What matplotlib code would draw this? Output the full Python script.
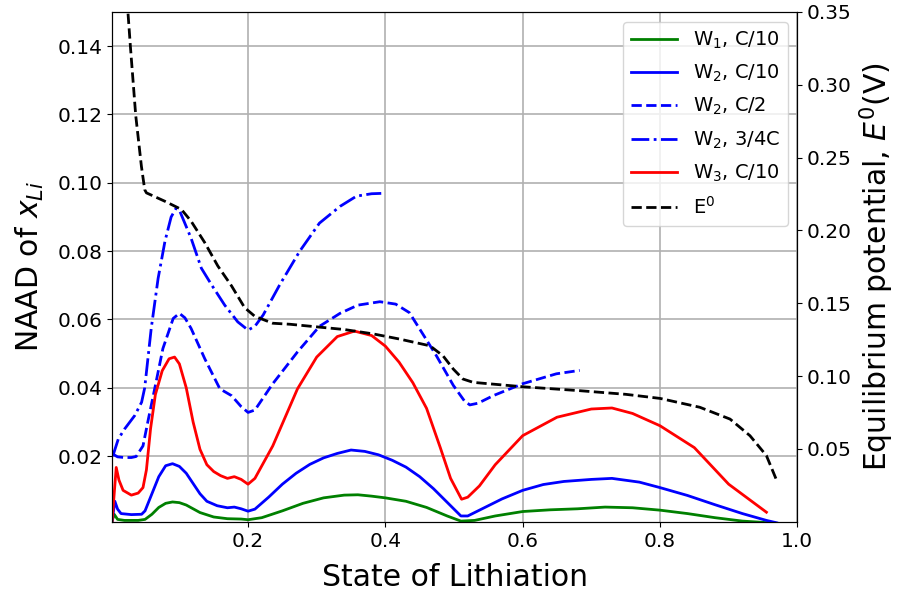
import matplotlib
matplotlib.use("Agg")
import matplotlib.pyplot as plt
import numpy as np

# NAAD curves, state of lithiation on x
w1_c10_x = [0.002, 0.005, 0.01, 0.02, 0.04, 0.05, 0.06, 0.07, 0.08, 0.09, 0.10, 0.11, 0.13, 0.15, 0.17,
            0.19, 0.20, 0.22, 0.25, 0.28, 0.31, 0.34, 0.36, 0.38, 0.40, 0.43, 0.46, 0.49, 0.51, 0.53,
            0.56, 0.60, 0.64, 0.68, 0.72, 0.76, 0.80, 0.84, 0.88, 0.92, 0.96]
w1_c10_y = [0.001, 0.003, 0.0015, 0.0012, 0.0012, 0.0015, 0.003, 0.0050, 0.0062, 0.0066, 0.0064, 0.0057,
            0.0035, 0.0022, 0.0017, 0.0016, 0.0014, 0.0020, 0.0040, 0.0062, 0.0078, 0.0086, 0.0087,
            0.0083, 0.0078, 0.0068, 0.0050, 0.0025, 0.0010, 0.0012, 0.0025, 0.0038, 0.0043, 0.0046,
            0.0051, 0.0049, 0.0042, 0.0032, 0.0020, 0.0010, 0.0005]

w2_c10_x = [0.002, 0.006, 0.01, 0.015, 0.03, 0.045, 0.05, 0.06, 0.07, 0.08, 0.09, 0.10, 0.11, 0.12, 0.13,
            0.14, 0.155, 0.17, 0.18, 0.19, 0.20, 0.21, 0.23, 0.25, 0.27, 0.29, 0.31, 0.33, 0.35, 0.37,
            0.39, 0.41, 0.43, 0.45, 0.47, 0.49, 0.51, 0.52, 0.54, 0.57, 0.60, 0.63, 0.66, 0.70, 0.73,
            0.77, 0.80, 0.84, 0.88, 0.92, 0.955, 0.97]
w2_c10_y = [0.001, 0.0068, 0.0045, 0.0032, 0.0029, 0.0030, 0.0040, 0.0090, 0.0140, 0.0172, 0.0178, 0.0170,
            0.0150, 0.0120, 0.0090, 0.0068, 0.0055, 0.0049, 0.0051, 0.0046, 0.0039, 0.0045, 0.0080, 0.0118,
            0.0150, 0.0176, 0.0195, 0.0208, 0.0218, 0.0214, 0.0204, 0.0188, 0.0168, 0.0140, 0.0105,
            0.0065, 0.0025, 0.0025, 0.0045, 0.0075, 0.0100, 0.0117, 0.0126, 0.0132, 0.0135, 0.0124,
            0.0108, 0.0085, 0.0058, 0.0032, 0.0012, 0.0005]

w2_c2_x = [0.004, 0.01, 0.02, 0.03, 0.037, 0.047, 0.055, 0.064, 0.076, 0.091, 0.10, 0.108, 0.117, 0.137,
           0.159, 0.176, 0.19, 0.20, 0.21, 0.236, 0.272, 0.304, 0.334, 0.36, 0.392, 0.415, 0.435, 0.455,
           0.474, 0.499, 0.515, 0.523, 0.535, 0.557, 0.60, 0.649, 0.683]
w2_c2_y = [0.0205, 0.0198, 0.0196, 0.0196, 0.0199, 0.023, 0.031, 0.0397, 0.0515, 0.0603, 0.0618, 0.0605,
           0.0574, 0.0485, 0.0397, 0.0377, 0.0345, 0.0328, 0.0335, 0.0412, 0.0505, 0.058, 0.0618, 0.0642,
           0.0652, 0.0645, 0.0620, 0.0556, 0.0495, 0.0407, 0.0362, 0.0350, 0.0355, 0.0377, 0.0412,
           0.0441, 0.0451]

w2_34c_x = [0.003, 0.011, 0.02, 0.035, 0.045, 0.0495, 0.059, 0.069, 0.079, 0.088, 0.095, 0.10, 0.117,
            0.132, 0.147, 0.166, 0.185, 0.20, 0.21, 0.222, 0.246, 0.275, 0.304, 0.334, 0.358, 0.38, 0.394]
w2_34c_y = [0.020, 0.025, 0.0279, 0.0319, 0.0358, 0.040, 0.0574, 0.072, 0.0829, 0.090, 0.0925, 0.0920,
            0.0838, 0.075, 0.0701, 0.0642, 0.0593, 0.0569, 0.0580, 0.0613, 0.0701, 0.0799, 0.0882,
            0.0931, 0.0961, 0.0968, 0.0969]

w3_c10_x = [0.002, 0.008, 0.012, 0.018, 0.03, 0.04, 0.047, 0.052, 0.058, 0.065, 0.075, 0.085, 0.093, 0.10,
            0.11, 0.12, 0.13, 0.14, 0.15, 0.16, 0.17, 0.18, 0.19, 0.20, 0.21, 0.236, 0.272, 0.30, 0.33,
            0.355, 0.38, 0.40, 0.42, 0.44, 0.46, 0.48, 0.495, 0.511, 0.52, 0.537, 0.56, 0.60, 0.65, 0.70,
            0.73, 0.76, 0.80, 0.85, 0.90, 0.955]
w3_c10_y = [0.001, 0.0167, 0.013, 0.010, 0.0086, 0.0092, 0.0108, 0.016, 0.028, 0.038, 0.045, 0.0485, 0.0490,
            0.0470, 0.040, 0.030, 0.022, 0.0175, 0.0155, 0.0143, 0.0135, 0.0140, 0.0132, 0.0118, 0.0135,
            0.023, 0.0397, 0.049, 0.055, 0.0566, 0.0553, 0.0522, 0.0475, 0.0415, 0.0340, 0.0225,
            0.0135, 0.0074, 0.0080, 0.0113, 0.0175, 0.026, 0.0314, 0.0338, 0.0341, 0.0325, 0.0289,
            0.0225, 0.0118, 0.0036]

# equilibrium potential (right axis)
e0_x = [0.022, 0.0287, 0.0364, 0.0447, 0.0495, 0.052, 0.079, 0.103, 0.117, 0.137, 0.156, 0.176, 0.195,
        0.21, 0.236, 0.261, 0.309, 0.34, 0.382, 0.42, 0.465, 0.484, 0.499, 0.513, 0.528, 0.60, 0.683,
        0.75, 0.80, 0.858, 0.902, 0.931, 0.955, 0.970]
e0_y = [0.37, 0.326, 0.279, 0.244, 0.228, 0.2258, 0.220, 0.2144, 0.2064, 0.1916, 0.1756, 0.1619, 0.1470,
        0.141, 0.1363, 0.1356, 0.1334, 0.1320, 0.1290, 0.1255, 0.1208, 0.1139, 0.1048, 0.098, 0.0957,
        0.0927, 0.090, 0.0875, 0.0847, 0.0786, 0.0705, 0.0591, 0.0454, 0.0283]

fig = plt.figure(figsize=(9.04, 5.97), dpi=100)
ax1 = fig.add_axes([0.124, 0.126, 0.758, 0.854])
ax2 = ax1.twinx()

lw = 2
l1, = ax1.plot(w1_c10_x, w1_c10_y, color='green', lw=lw, label='W$_1$, C/10')
l2, = ax1.plot(w2_c10_x, w2_c10_y, color='blue', lw=lw, label='W$_2$, C/10')
l3, = ax1.plot(w2_c2_x, w2_c2_y, color='blue', lw=lw, ls='--', label='W$_2$, C/2')
l4, = ax1.plot(w2_34c_x, w2_34c_y, color='blue', lw=lw, ls='-.', label='W$_2$, 3/4C')
l5, = ax1.plot(w3_c10_x, w3_c10_y, color='red', lw=lw, label='W$_3$, C/10')
l6, = ax2.plot(e0_x, e0_y, color='black', lw=lw, ls='--', label='E$^0$')

ax1.set_xlim(0.002, 1.0)
ax1.set_ylim(0.0008, 0.15)
ax2.set_ylim(0.0, 0.35)
ax1.set_xticks([0.2, 0.4, 0.6, 0.8, 1.0])
ax1.set_yticks([0.02, 0.04, 0.06, 0.08, 0.10, 0.12, 0.14])
ax2.set_yticks([0.05, 0.10, 0.15, 0.20, 0.25, 0.30, 0.35])
ax1.grid(True, color='#b0b0b0', lw=1.2)

ax1.tick_params(labelsize=14.5)
ax2.tick_params(labelsize=14.5)
ax1.set_xlabel('State of Lithiation', fontsize=21.5, labelpad=9)
ax1.set_ylabel('NAAD of $x_{Li}$', fontsize=21.5, labelpad=8)
ax2.set_ylabel('Equilibrium potential, $E^0$(V)', fontsize=21.5)

ax2.legend(handles=[l1, l2, l3, l4, l5, l6], loc='upper right', fontsize=14,
           handlelength=2.4, labelspacing=0.62)

fig.savefig('out.png', dpi=100)
